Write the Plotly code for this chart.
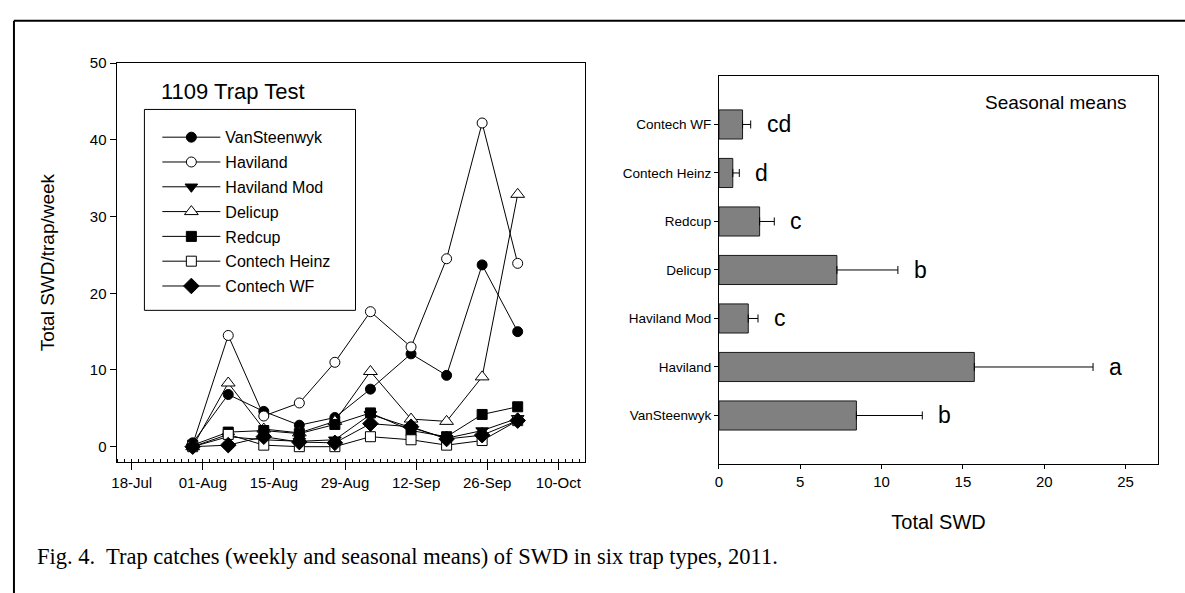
import plotly.graph_objects as go

W, H = 1185, 593

# ---------------- data ----------------
dates = ["2011-07-30", "2011-08-06", "2011-08-13", "2011-08-20", "2011-08-27",
         "2011-09-03", "2011-09-11", "2011-09-18", "2011-09-25", "2011-10-02"]

vansteenwyk = [0.5, 6.8, 4.6, 2.8, 3.8, 7.5, 12.1, 9.3, 23.7, 15.0]
haviland = [0.3, 14.5, 4.0, 5.7, 11.0, 17.6, 13.0, 24.5, 42.2, 23.9]
haviland_mod = [0.0, 1.3, 0.9, 0.7, 0.9, 4.2, 2.5, 1.1, 2.1, 3.7]
delicup = [0.0, 8.3, 2.3, 1.8, 3.3, 9.8, 3.6, 3.3, 9.1, 32.9]
redcup = [0.2, 1.9, 2.1, 1.7, 2.9, 4.4, 2.1, 1.3, 4.2, 5.2]
contech_heinz = [0.0, 1.6, 0.2, 0.0, 0.0, 1.3, 0.9, 0.2, 0.8, 3.4]
contech_wf = [0.0, 0.2, 1.3, 0.6, 0.5, 3.0, 2.6, 1.0, 1.5, 3.4]

series_names = ["VanSteenwyk", "Haviland", "Haviland Mod", "Delicup",
                "Redcup", "Contech Heinz", "Contech WF"]
series_values = [vansteenwyk, haviland, haviland_mod, delicup,
                 redcup, contech_heinz, contech_wf]

x_tick_dates = ["2011-07-18", "2011-08-01", "2011-08-15", "2011-08-29",
                "2011-09-12", "2011-09-26", "2011-10-10"]

seasonal_categories = ["VanSteenwyk", "Haviland", "Haviland Mod", "Delicup",
                       "Redcup", "Contech Heinz", "Contech WF"]
seasonal_means = [8.45, 15.7, 1.8, 7.25, 2.5, 0.85, 1.45]
seasonal_upper = [12.5, 23.0, 2.4, 11.0, 3.4, 1.25, 1.95]
seasonal_letters = ["b", "a", "c", "b", "c", "d", "cd"]

# ---------------- styling ----------------
SANS = "Liberation Sans, Arial, sans-serif"
SERIF = "Liberation Serif, Times New Roman, serif"

marker_styles = {
    "VanSteenwyk": dict(symbol="circle", color="black", size=10),
    "Haviland": dict(symbol="circle", color="white", size=10),
    "Haviland Mod": dict(symbol="triangle-down", color="black", size=11),
    "Delicup": dict(symbol="triangle-up", color="white", size=12),
    "Redcup": dict(symbol="square", color="black", size=10),
    "Contech Heinz": dict(symbol="square", color="white", size=10),
    "Contech WF": dict(symbol="diamond", color="black", size=12),
}


def px_x(p):
    return p / W


def px_y(p):
    return 1 - p / H


fig = go.Figure()

for name, vals in zip(series_names, series_values):
    st = marker_styles[name]
    fig.add_trace(go.Scatter(
        x=dates, y=vals, name=name, mode="lines+markers",
        legendgroup=name,
        line=dict(color="black", width=1),
        marker=dict(symbol=st["symbol"], color=st["color"], size=st["size"],
                    line=dict(color="black", width=1)),
        xaxis="x", yaxis="y",
    ))

fig.add_trace(go.Bar(
    x=seasonal_means, y=seasonal_categories, orientation="h",
    xaxis="x2", yaxis="y2", showlegend=False, width=0.6,
    marker=dict(color="#808080", line=dict(color="#1a1a1a", width=1)),
    error_x=dict(type="data", symmetric=False,
                 array=[u - m for u, m in zip(seasonal_upper, seasonal_means)],
                 arrayminus=[0] * len(seasonal_means),
                 color="black", thickness=1, width=4),
))

annotations = []
for cat, up, letter in zip(seasonal_categories, seasonal_upper, seasonal_letters):
    annotations.append(dict(
        x=up, y=cat, xref="x2", yref="y2", text=letter, showarrow=False,
        xanchor="left", yanchor="middle", xshift=14,
        font=dict(family=SANS, size=23, color="black"),
    ))

annotations += [
    dict(x=px_x(155), y=px_y(84), xref="paper", yref="paper",
         text="1109 Trap Test", showarrow=False, xanchor="left", yanchor="middle",
         font=dict(family=SANS, size=22, color="black")),
    dict(x=px_x(1129), y=px_y(95), xref="paper", yref="paper",
         text="Seasonal means", showarrow=False, xanchor="right", yanchor="middle",
         font=dict(family=SANS, size=19, color="black")),
    dict(x=px_x(30), y=px_y(556), xref="paper", yref="paper",
         text="Fig. 4.\u00a0 Trap catches (weekly and seasonal means) of SWD in six trap types, 2011.",
         showarrow=False, xanchor="left", yanchor="middle",
         font=dict(family=SERIF, size=22.5, color="black")),
]

shapes = [
    # outer frame (top and left)
    dict(type="line", xref="paper", yref="paper", x0=px_x(9), x1=1.0,
         y0=px_y(12), y1=px_y(12), line=dict(color="black", width=2)),
    dict(type="line", xref="paper", yref="paper", x0=px_x(9), x1=px_x(9),
         y0=px_y(12), y1=0.0, line=dict(color="black", width=2)),
    # legend box
    dict(type="rect", xref="paper", yref="paper", x0=px_x(140), x1=px_x(352),
         y0=px_y(306), y1=px_y(102), line=dict(color="black", width=1),
         fillcolor="white", layer="below"),
]

axis_common = dict(showline=True, linecolor="black", linewidth=1, mirror=True,
                   showgrid=False, zeroline=False, ticks="outside",
                   tickcolor="black", tickwidth=1)

fig.update_layout(
    width=W, height=H,
    margin=dict(l=0, r=0, t=0, b=0),
    paper_bgcolor="white", plot_bgcolor="rgba(0,0,0,0)",
    font=dict(family=SANS, color="black"),
    showlegend=True,
    legend=dict(x=px_x(153), y=px_y(113), xanchor="left", yanchor="top",
                bgcolor="rgba(0,0,0,0)", borderwidth=0, itemwidth=58,
                tracegroupgap=1, font=dict(family=SANS, size=16, color="black")),
    xaxis=dict(
        **axis_common, type="date", domain=[px_x(112), px_x(582)],
        range=["2011-07-15", "2011-10-15 04:00"], anchor="y",
        tickmode="array", tickvals=x_tick_dates, tickformat="%d-%b",
        ticklen=7, tickfont=dict(family=SANS, size=15),
        minor=dict(tickmode="linear", tick0="2011-07-18", dtick=1.4 * 86400000,
                   ticks="inside", ticklen=3, tickcolor="black", showgrid=False),
    ),
    yaxis=dict(
        **axis_common, domain=[px_y(460), px_y(55)], range=[-2, 50],
        tick0=0, dtick=10, ticklen=6, anchor="x",
        tickfont=dict(family=SANS, size=15),
        title=dict(text="Total SWD/trap/week", font=dict(family=SANS, size=19),
                   standoff=30),
    ),
    xaxis2=dict(
        **axis_common, domain=[px_x(717), px_x(1158)], range=[0, 27],
        tick0=0, dtick=5, ticklen=4, anchor="y2",
        tickfont=dict(family=SANS, size=15),
        title=dict(text="Total SWD", font=dict(family=SANS, size=20), standoff=26),
    ),
    yaxis2=dict(
        **axis_common, domain=[px_y(462), px_y(68)], type="category",
        categoryorder="array", categoryarray=seasonal_categories,
        range=[-1, 7], ticklen=4, anchor="x2",
        tickfont=dict(family=SANS, size=13.5),
    ),
    annotations=annotations,
    shapes=shapes,
)

fig.write_html("out.html")
